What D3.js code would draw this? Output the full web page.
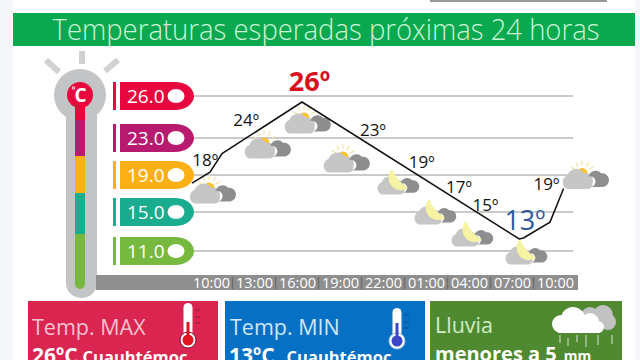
<!DOCTYPE html>
<html>
<head>
<meta charset="utf-8">
<script src="https://cdn.jsdelivr.net/npm/d3@7"></script>
<style>
  html, body { margin: 0; padding: 0; background: #fff; overflow: hidden; }
  svg { display: block; }
  text { font-family: "Open Sans", sans-serif; }
</style>
</head>
<body>
<script>
const WIDTH = 640;
const HEIGHT = 360;

const TITLE = "Temperaturas esperadas próximas 24 horas";

// hours after the first 10:00 tick
const hours = [0, 3, 6, 9, 12, 15, 18, 21, 24];
const timeLabels = ["10:00", "13:00", "16:00", "19:00", "22:00", "01:00", "04:00", "07:00", "10:00"];
const temps = [18, 24, 26, 23, 19, 17, 15, 13, 19];

const lineHours = [-1.33, -0.07, 0.77, 6.35, 21.5, 21.8, 23.65, 24.6];
const lineTemps = [18.3, 19.35, 21.1, 26, 13, 13.1, 14.6, 17.8];

// where each label and icon sits on the same hour / temp axes
const labelHours = [-0.4, 2.45, 6.87, 11.3, 14.7, 17.3, 19.15, 21.9, 23.4];
const labelTemps = [19.9, 23.7, 27.05, 22.8, 19.7, 17.4, 15.7, 13.85, 17.65];
const iconHours = [-0.2, 3.63, 6.42, 9.14, 12.84, 15.42, 18, 21.77, 25.82];
const iconTemps = [17.36, 21.63, 24, 20.3, 18.12, 15.28, 13.19, 11.48, 18.74];
const iconKinds = ["sun", "sun", "sun", "sun", "moon", "moon", "moon", "moon", "sun"];

const levels = [26, 23, 19, 15, 11];
const levelLabels = ["26.0", "23.0", "19.0", "15.0", "11.0"];
const levelColors = ["#e9073f", "#b81a70", "#fbb016", "#19ac8e", "#77b93f"];

const cardTitles = ["Temp. MAX", "Temp. MIN", "Lluvia"];
const cardValues = ["26ºC", "13ºC", "menores a 5"];
const cardPlaces = ["Cuauhtémoc", "Cuauhtémoc", "mm"];
const cardColors = ["#d9254f", "#0670c4", "#4f8a30"];
const cardTextColors = ["#f6c3cf", "#cfe6fa", "#d5ecc5"];

const svg = d3.select("body").append("svg")
  .attr("width", WIDTH)
  .attr("height", HEIGHT);

// page background
svg.append("rect").attr("width", WIDTH).attr("height", HEIGHT).attr("fill", "#f4f6f9");
svg.append("rect").attr("x", 13).attr("y", 0).attr("width", 622).attr("height", HEIGHT).attr("fill", "#fff");
svg.append("rect").attr("x", 430).attr("y", 0).attr("width", 177).attr("height", 2).attr("fill", "#9a9a9a");

// header
svg.append("rect").attr("x", 13).attr("y", 13).attr("width", 622).attr("height", 33).attr("fill", "#0aa94f");
svg.append("text")
  .attr("x", 326).attr("y", 40)
  .attr("text-anchor", "middle")
  .attr("font-size", 29)
  .attr("font-weight", 300)
  .attr("textLength", 547)
  .attr("lengthAdjust", "spacingAndGlyphs")
  .attr("fill", "#c9f5d6")
  .text(TITLE);

// scales
const x = d3.scaleLinear().domain([0, 24]).range([211, 555]);
const y = d3.scaleLinear().domain([13, 26]).range([239, 102]);
const levelY = d3.scaleLinear().domain([11, 15, 19, 23, 26]).range([251, 212, 175, 138, 96]);

// thermometer tube
const tube = svg.append("g");
tube.append("rect").attr("x", 66).attr("y", 90).attr("width", 31).attr("height", 208).attr("rx", 15).attr("fill", "#c2c4c6");
tube.append("circle").attr("cx", 80).attr("cy", 95).attr("r", 26).attr("fill", "#c2c4c6");

[[46, 60, 59, 72], [82, 51, 82, 64], [105, 71, 118, 60]].forEach(r => {
  tube.append("line")
    .attr("x1", r[0]).attr("y1", r[1]).attr("x2", r[2]).attr("y2", r[3])
    .attr("stroke", "#cfd1d3").attr("stroke-width", 6);
});

// colored core, one segment per level
const coreEdges = [95, 120, 156, 193, 234, 282];
tube.selectAll(".core")
  .data(levels)
  .join("rect")
  .attr("class", "core")
  .attr("x", 75).attr("width", 10)
  .attr("y", (d, i) => coreEdges[i])
  .attr("height", (d, i) => coreEdges[i + 1] - coreEdges[i])
  .attr("fill", (d, i) => levelColors[i]);
tube.append("rect").attr("x", 75).attr("y", 270).attr("width", 10).attr("height", 19).attr("rx", 5).attr("fill", levelColors[4]);
tube.append("circle").attr("cx", 80).attr("cy", 95).attr("r", 13).attr("fill", levelColors[0]);
tube.append("text").attr("x", 80.5).attr("y", 102)
  .attr("text-anchor", "middle").attr("font-size", 19).attr("font-weight", 700)
  .attr("fill", "#fff").text("C");
tube.append("circle").attr("cx", 73.5).attr("cy", 88).attr("r", 1.3).attr("fill", "none").attr("stroke", "#fff");

// grid lines behind the line chart
svg.append("g").selectAll("line")
  .data(levels)
  .join("line")
  .attr("x1", 190).attr("x2", 573)
  .attr("y1", d => levelY(d)).attr("y2", d => levelY(d))
  .attr("stroke", "#b9b9b9").attr("stroke-width", 1.4);

// level pills
const pillPath = "M0,-14 H55 A19,14 0 0 1 55,14 H0 Z";
const pills = svg.append("g").selectAll("g")
  .data(levels)
  .join("g")
  .attr("transform", d => `translate(120,${levelY(d)})`);
pills.append("rect").attr("x", -7).attr("y", -14).attr("width", 3).attr("height", 28).attr("fill", (d, i) => levelColors[i]);
pills.append("path").attr("d", pillPath).attr("fill", (d, i) => levelColors[i]);
pills.append("text")
  .attr("x", 7).attr("y", 6.5)
  .attr("font-size", 19)
  .attr("fill", "#fff")
  .text((d, i) => levelLabels[i]);
pills.append("ellipse").attr("cx", 56).attr("rx", 8.5).attr("ry", 7).attr("fill", "#fff");

// time axis bar
svg.append("rect").attr("x", 96).attr("y", 275).attr("width", 482).attr("height", 15).attr("fill", "#8f8f8f");
svg.append("g").selectAll("line")
  .data(hours.slice(0, -1))
  .join("line")
  .attr("x1", d => x(d + 1.5)).attr("x2", d => x(d + 1.5))
  .attr("y1", 277).attr("y2", 289)
  .attr("stroke", "#6e6e6e").attr("stroke-width", 1.5);
const xAxis = svg.append("g")
  .attr("transform", "translate(0,283)")
  .call(d3.axisBottom(x).tickValues(hours).tickSize(0).tickFormat((d, i) => timeLabels[i]));
xAxis.select(".domain").remove();
xAxis.selectAll("text")
  .attr("y", 0).attr("dy", "0.36em")
  .attr("font-size", 14.5)
  .attr("font-family", "\"Open Sans\", sans-serif")
  .attr("fill", "#fff");

// weather icons
const icons = svg.append("g").selectAll("g")
  .data(temps)
  .join("g")
  .attr("transform", (d, i) => `translate(${x(iconHours[i])},${y(iconTemps[i])})`);

icons.each(function(d, i) {
  const g = d3.select(this);
  const isSun = iconKinds[i] === "sun";
  if (isSun) {
    g.append("circle").attr("cx", 1).attr("cy", -5).attr("r", 5.5).attr("fill", "#f9c22e");
    d3.range(5).forEach(k => {
      const a = (-150 + k * 30) * Math.PI / 180;
      g.append("line")
        .attr("x1", 1 + 8 * Math.cos(a)).attr("y1", -5 + 8 * Math.sin(a))
        .attr("x2", 1 + 13 * Math.cos(a)).attr("y2", -5 + 13 * Math.sin(a))
        .attr("stroke", "#f5e3a4").attr("stroke-width", 1.2);
    });
  }
  const c = g.append("g").attr("transform", isSun ? "scale(1.05)" : "translate(-1,0) scale(0.95)");
  c.append("path")
    .attr("d", "M-13,10 A7,7 0 0 1 -13,-3 A9,9 0 0 1 3,-5 A7,7 0 0 1 11,4 A5,5 0 0 1 7,10 Z")
    .attr("fill", "#c6c6c6");
  c.append("path")
    .attr("d", "M7,-2 A7,7 0 0 1 19,-5 A6.5,6.5 0 0 1 21,8 H10 A5,5 0 0 0 7,-2 Z")
    .attr("fill", "#8e8e8e");
  if (!isSun) {
    g.append("path")
      .attr("d", "M-3,-16 A12.5,12.5 0 0 0 13,3 A40,40 0 0 1 -3,-16 Z")
      .attr("fill", "#f6f3a2");
  }
});

// temperature line
const line = d3.line().x(d => x(d[0])).y(d => y(d[1]));
svg.append("path")
  .datum(d3.zip(lineHours, lineTemps))
  .attr("d", line)
  .attr("fill", "none")
  .attr("stroke", "#111")
  .attr("stroke-width", 1.5);

// temperature labels
svg.append("g").selectAll("text")
  .data(temps)
  .join("text")
  .attr("x", (d, i) => x(labelHours[i]))
  .attr("y", (d, i) => y(labelTemps[i]))
  .attr("text-anchor", "middle")
  .attr("font-size", d => d === 26 || d === 13 ? 27 : 17)
  .attr("font-weight", d => d === 26 ? 700 : d === 13 ? 400 : 500)
  .attr("fill", d => d === 26 ? "#d8101c" : d === 13 ? "#2d5a9e" : "#111")
  .text(d => d + "º");

// bottom cards
const cardX = d3.scaleOrdinal().domain(cardTitles).range([28, 225, 430]);
const cardW = d3.scaleOrdinal().domain(cardTitles).range([190, 200, 192]);
const cards = svg.append("g").selectAll("g")
  .data(cardTitles)
  .join("g")
  .attr("transform", d => `translate(${cardX(d)},301)`);
cards.append("rect").attr("width", d => cardW(d)).attr("height", 59).attr("fill", (d, i) => cardColors[i]);
cards.append("text")
  .attr("x", (d, i) => i === 0 ? 4 : 5).attr("y", (d, i) => i === 2 ? 32 : 34)
  .attr("font-size", 21.5)
  .attr("fill", (d, i) => cardTextColors[i])
  .text(d => d);
cards.append("text")
  .attr("x", (d, i) => i === 2 ? 5 : 4).attr("y", (d, i) => i === 2 ? 59.5 : 61.5)
  .attr("font-weight", 700)
  .attr("fill", "#fff")
  .each(function(d, i) {
    const t = d3.select(this);
    t.append("tspan").attr("font-size", i === 2 ? 20 : 21).text(cardValues[i]);
    t.append("tspan").attr("font-size", i === 2 ? 14 : 16.5).attr("dx", i === 1 ? 12 : i === 0 ? 5 : 7).text(cardPlaces[i]);
  });

// thermometer glyphs on the first two cards
const glyph = (gx, gy, len, tick, bulb, edge) => {
  const g = svg.append("g").attr("transform", `translate(${gx},${gy})`);
  g.append("rect").attr("x", -4.5).attr("y", 0).attr("width", 9).attr("height", len).attr("rx", 4.5).attr("fill", "#fff");
  g.append("circle").attr("cx", 0).attr("cy", len).attr("r", 8).attr("fill", "#fff").attr("stroke", edge).attr("stroke-width", 1);
  g.append("circle").attr("cx", 0).attr("cy", len).attr("r", 5.5).attr("fill", bulb);
  g.append("rect").attr("x", -1.5).attr("y", len - 18).attr("width", 3).attr("height", 16).attr("fill", bulb);
  [7, 14, 20].forEach(t => {
    g.append("line").attr("x1", 7).attr("x2", 12).attr("y1", t).attr("y2", t).attr("stroke", tick).attr("stroke-width", 1);
  });
};
glyph(188, 303, 37, "#8d1c34", "#e3141f", "#7d1028");
glyph(397, 308, 33, "#05488a", "#3c46c4", "#9cc4ea");

// rain cloud on the third card
const rain = svg.append("g");
[[590, 316, 9], [603, 315, 10], [608, 322, 8]].forEach(c => {
  rain.append("circle").attr("cx", c[0]).attr("cy", c[1]).attr("r", c[2]).attr("fill", "#c2c2c2");
});
[[561, 324, 9], [573, 319, 12], [590, 322, 9], [598, 327, 6]].forEach(c => {
  rain.append("circle").attr("cx", c[0]).attr("cy", c[1]).attr("r", c[2]).attr("fill", "#fff");
});
rain.append("rect").attr("x", 558).attr("y", 324).attr("width", 42).attr("height", 9).attr("fill", "#fff");
[[560, 335, 343], [568, 338, 346], [577, 335, 342], [586, 335, 347], [598, 335, 345], [612, 335, 344]].forEach(r => {
  rain.append("line")
    .attr("x1", r[0]).attr("x2", r[0]).attr("y1", r[1]).attr("y2", r[2])
    .attr("stroke", "#c4d4b6").attr("stroke-width", 1.2);
});
</script>
</body>
</html>
